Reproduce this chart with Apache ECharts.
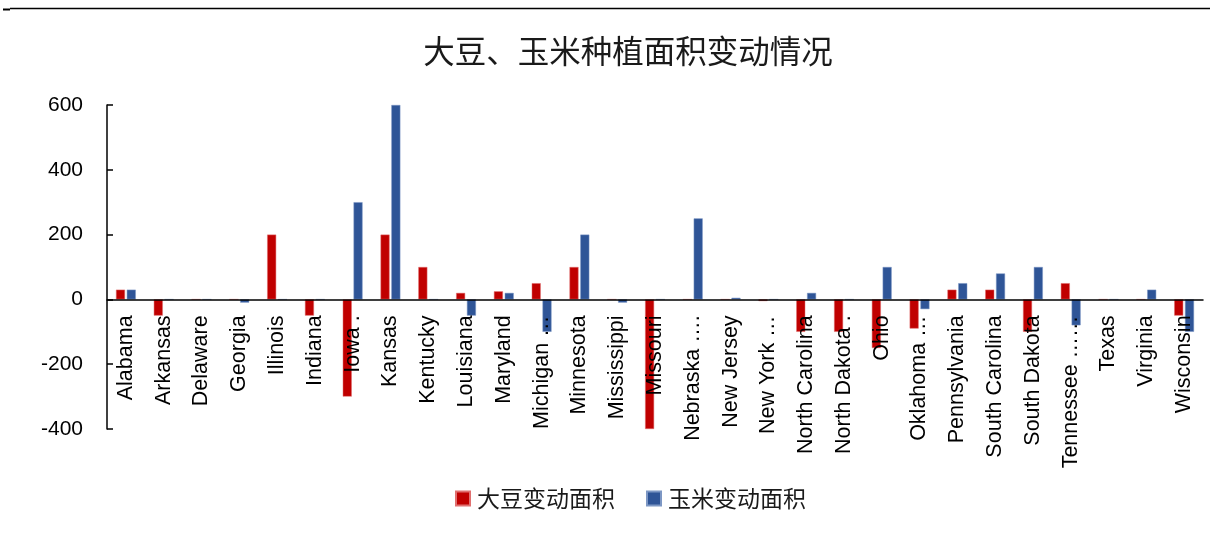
<!DOCTYPE html>
<html>
<head>
<meta charset="utf-8">
<script src="https://cdn.jsdelivr.net/npm/echarts@6/dist/echarts.min.js"></script>
<style>html,body{margin:0;padding:0;background:#fff}#c{width:1210px;height:550px}</style>
</head>
<body>
<div id="c"></div>
<script>
const categories = ["Alabama","Arkansas","Delaware","Georgia","Illinois","Indiana","Iowa .","Kansas","Kentucky","Louisiana","Maryland","Michigan …","Minnesota","Mississippi","Missouri","Nebraska ….","New Jersey","New York …","North Carolina","North Dakota .","Ohio","Oklahoma …","Pennsylvania","South Carolina","South Dakota","Tennessee ……","Texas","Virginia","Wisconsin"];
const soybean = [30,-50,0,0,200,-50,-300,200,100,20,25,50,100,0,-400,0,0,-5,-100,-100,-150,-90,30,30,-100,50,0,0,-50];
const corn = [30,0,0,-10,0,0,300,600,0,-50,20,-100,200,-10,0,250,5,0,20,0,100,-30,50,80,100,-80,0,30,-100];
const seriesNames = ["大豆变动面积","玉米变动面积"];
const titleText = "大豆、玉米种植面积变动情况";
const yMin = -400, yMax = 600, yStep = 200;

const W = 1210, H = 550;
const gridTop = 105, gridBottom = 121;
const gridH = H - gridTop - gridBottom;
// shift the category axis (line + labels) up to the value 0, as Excel does
const zeroOffset = -((0 - yMin) / (yMax - yMin)) * gridH;

const chart = echarts.init(document.getElementById('c'), null, {renderer:'canvas'});
chart.setOption({
  animation: false,
  backgroundColor: '#ffffff',
  title: {
    text: titleText,
    left: 623, top: 30, textAlign: 'center',
    textStyle: {fontFamily: '"Noto Sans CJK SC"', fontSize: 31.5, fontWeight: 'normal', color: '#1a1a1a'}
  },
  graphic: [
    {type:'line', shape:{x1:10,y1:8.5,x2:1210,y2:8.5}, style:{stroke:'#000',lineWidth:1.5}},
    {type:'line', shape:{x1:3,y1:9.5,x2:10,y2:9.5}, style:{stroke:'#000',lineWidth:2}}
  ],
  legend: {
    left: 455, top: 487, padding: 0,
    itemWidth: 14, itemHeight: 14, itemGap: 31,
    icon: 'rect',
    textStyle: {fontFamily: '"Noto Sans CJK SC"', fontSize: 23, color: '#1a1a1a', padding:[0,0,0,2]},
    data: seriesNames
  },
  grid: {left: 107, right: 7, top: gridTop, bottom: gridBottom, containLabel: false, outerBoundsMode: 'none'},
  xAxis: {
    type: 'category', data: categories,
    offset: zeroOffset, z: 10,
    axisLine: {onZero: false, lineStyle: {color: '#000', width: 1.5}},
    axisTick: {show: false},
    axisLabel: {rotate: 90, margin: 16, interval: 0, fontFamily: 'Liberation Sans', fontSize: 21.5, color: '#000'}
  },
  yAxis: {
    type: 'value', min: yMin, max: yMax, interval: yStep,
    splitLine: {show: false},
    axisLine: {show: true, lineStyle: {color: '#000', width: 1.5}},
    axisTick: {show: true, inside: true, length: 6, lineStyle: {color: '#000', width: 1.5}},
    axisLabel: {margin: 24, fontFamily: 'Liberation Sans', fontSize: 21, color: '#000'}
  },
  series: [
    {name: seriesNames[0], type: 'bar', data: soybean, barWidth: 9, barGap: '20%',
     itemStyle: {color: '#C00000', borderColor: '#e07070', borderWidth: 0.5}},
    {name: seriesNames[1], type: 'bar', data: corn, barWidth: 9, barGap: '20%',
     itemStyle: {color: '#2F5597', borderColor: '#7d97c4', borderWidth: 0.5}}
  ]
});
</script>
</body>
</html>
